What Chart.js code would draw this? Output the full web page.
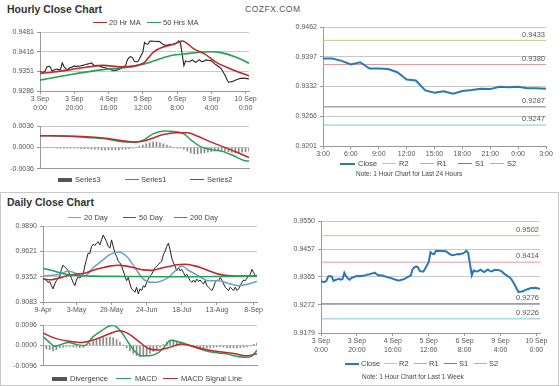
<!DOCTYPE html>
<html>
<head>
<meta charset="utf-8">
<script src="https://cdn.jsdelivr.net/npm/chart.js@4.4.0/dist/chart.umd.min.js"></script>
<style>
body{margin:0;background:#fff;font-family:"Liberation Sans",Arial,sans-serif;}
#wrap{position:relative;width:560px;height:386px;overflow:hidden}
.box{position:absolute}
.t{position:absolute;white-space:nowrap;color:#444;font-size:7.5px;line-height:8px}
.h{position:absolute;font-weight:bold;font-size:10.5px;color:#333;white-space:nowrap}
.sw{position:absolute;height:0;border-top:1.5px solid}
.frame{position:absolute;border:1px solid #c8c8c8}
</style>
</head>
<body>
<div id="wrap">
  <div class="h" style="left:7px;top:3px">Hourly Close Chart</div>
  <div class="t" style="left:245px;top:5px;font-size:8.5px;letter-spacing:0.5px;color:#555">COZFX.COM</div>
  <div class="frame" style="left:0;top:192px;width:557px;height:192px"></div>
  <div class="h" style="left:7px;top:196px">Daily Close Chart</div>

  <div class="box" style="left:0;top:25px"><canvas id="cA" width="262" height="89"></canvas></div>
  <div class="box" style="left:0;top:119px"><canvas id="cB" width="262" height="57"></canvas></div>
  <div class="box" style="left:280px;top:20px"><canvas id="cC" width="278" height="138"></canvas></div>
  <div class="box" style="left:0;top:219px"><canvas id="cD" width="270" height="95"></canvas></div>
  <div class="box" style="left:0;top:318px"><canvas id="cE" width="270" height="55"></canvas></div>
  <div class="box" style="left:280px;top:214px"><canvas id="cF" width="278" height="142"></canvas></div>

  <!-- legend A -->
  <div class="sw" style="left:93px;top:22px;width:14px;border-color:#c0282d"></div>
  <div class="t" style="left:109px;top:19px">20 Hr MA</div>
  <div class="sw" style="left:147px;top:22px;width:14px;border-color:#25a155"></div>
  <div class="t" style="left:163px;top:19px">50 Hrs MA</div>
  <!-- legend B -->
  <div class="sw" style="left:58px;top:178px;width:14px;border-top-width:4px;border-color:#555"></div>
  <div class="t" style="left:75px;top:176px">Series3</div>
  <div class="sw" style="left:125px;top:179px;width:14px;border-color:#25a155"></div>
  <div class="t" style="left:141px;top:176px">Series1</div>
  <div class="sw" style="left:190px;top:179px;width:14px;border-color:#c0282d"></div>
  <div class="t" style="left:207px;top:176px">Series2</div>
  <!-- legend C -->
  <div class="sw" style="left:340px;top:163px;width:15px;border-width:2px;border-color:#2a78b5"></div>
  <div class="t" style="left:358px;top:160px">Close</div>
  <div class="sw" style="left:382px;top:163px;width:14px;border-top-width:1px;border-color:#c9c98a"></div>
  <div class="t" style="left:399px;top:160px">R2</div>
  <div class="sw" style="left:420px;top:163px;width:14px;border-top-width:1px;border-color:#e59a9a"></div>
  <div class="t" style="left:437px;top:160px">R1</div>
  <div class="sw" style="left:458px;top:163px;width:14px;border-top-width:1px;border-color:#7a7a98"></div>
  <div class="t" style="left:475px;top:160px">S1</div>
  <div class="sw" style="left:490px;top:163px;width:14px;border-top-width:1px;border-color:#7cc6d6"></div>
  <div class="t" style="left:507px;top:160px">S2</div>
  <div class="t" style="left:356px;top:170px;font-size:6.5px">Note: 1 Hour Chart for Last 24 Hours</div>
  <!-- legend D -->
  <div class="sw" style="left:68px;top:217px;width:13px;border-color:#6f9fc6"></div>
  <div class="t" style="left:84px;top:214px">20 Day</div>
  <div class="sw" style="left:123px;top:217px;width:13px;border-color:#c0282d"></div>
  <div class="t" style="left:139px;top:214px">50 Day</div>
  <div class="sw" style="left:174px;top:217px;width:13px;border-color:#25a155"></div>
  <div class="t" style="left:190px;top:214px">200 Day</div>
  <!-- legend E -->
  <div class="sw" style="left:52px;top:377px;width:15px;border-top-width:4px;border-color:#555"></div>
  <div class="t" style="left:70px;top:375px">Divergence</div>
  <div class="sw" style="left:116px;top:378px;width:15px;border-color:#25a155"></div>
  <div class="t" style="left:135px;top:375px">MACD</div>
  <div class="sw" style="left:163px;top:378px;width:15px;border-color:#c0282d"></div>
  <div class="t" style="left:181px;top:375px">MACD Signal Line</div>
  <!-- legend F -->
  <div class="sw" style="left:345px;top:363px;width:14px;border-width:2px;border-color:#2a78b5"></div>
  <div class="t" style="left:361px;top:360px">Close</div>
  <div class="sw" style="left:384px;top:363px;width:13px;border-top-width:1px;border-color:#c9c98a"></div>
  <div class="t" style="left:399px;top:360px">R2</div>
  <div class="sw" style="left:414px;top:363px;width:13px;border-top-width:1px;border-color:#e59a9a"></div>
  <div class="t" style="left:429px;top:360px">R1</div>
  <div class="sw" style="left:444px;top:363px;width:13px;border-top-width:1px;border-color:#7a7a98"></div>
  <div class="t" style="left:459px;top:360px">S1</div>
  <div class="sw" style="left:474px;top:363px;width:13px;border-top-width:1px;border-color:#7cc6d6"></div>
  <div class="t" style="left:489px;top:360px">S2</div>
  <div class="t" style="left:362px;top:373px;font-size:6.5px">Note: 1 Hour Chart for Last 1 Week</div>
</div>

<script>
// ---- hourly, last week (index = hours since 3 Sep 0:00, weekend removed) ----
var hourTickPos = [0, 20, 40, 60, 80, 100, 120];
var hourTickLabels = [['3 Sep', '0:00'], ['3 Sep', '20:00'], ['4 Sep', '16:00'], ['5 Sep', '12:00'], ['6 Sep', '8:00'], ['9 Sep', '4:00'], ['10 Sep', '0:00']];
var hourClose = [
  0.9350, 0.9349, 0.9348, 0.9352, 0.9366, 0.9368, 0.9366, 0.9352, 0.9355, 0.9357,
  0.9359, 0.9356, 0.9358, 0.9379, 0.9367, 0.9360, 0.9356, 0.9362, 0.9364, 0.9366,
  0.9369, 0.9367, 0.9369, 0.9368, 0.9370, 0.9371, 0.9373, 0.9374, 0.9376, 0.9377,
  0.9379, 0.9374, 0.9370, 0.9371, 0.9370, 0.9368, 0.9366, 0.9364, 0.9363, 0.9361,
  0.9359, 0.9357, 0.9355, 0.9353, 0.9354, 0.9356, 0.9357, 0.9360, 0.9364, 0.9367,
  0.9370, 0.9390, 0.9397, 0.9400, 0.9397, 0.9385, 0.9383, 0.9383, 0.9392, 0.9404,
  0.9414, 0.9447, 0.9442, 0.9441, 0.9451, 0.9452, 0.9451, 0.9451, 0.9450, 0.9451,
  0.9449, 0.9444, 0.9440, 0.9437, 0.9438, 0.9439, 0.9441, 0.9440, 0.9442, 0.9443,
  0.9446, 0.9452, 0.9445, 0.9408, 0.9370, 0.9386, 0.9384, 0.9383, 0.9386, 0.9389,
  0.9384, 0.9381, 0.9386, 0.9390, 0.9385, 0.9383, 0.9386, 0.9389, 0.9388, 0.9387,
  0.9386, 0.9382, 0.9376, 0.9372, 0.9368, 0.9364, 0.9358, 0.9348, 0.9338, 0.9326,
  0.9315, 0.9316, 0.9317, 0.9319, 0.9322, 0.9324, 0.9326, 0.9328, 0.9328, 0.9329,
  0.9328, 0.9327, 0.9326
];
var ma20HrX = [0, 8, 18, 27, 37, 47, 57, 61, 66, 72, 78, 83, 90, 96, 103, 111, 122];
var ma20Hr = [0.9344, 0.9349, 0.9357, 0.9365, 0.9371, 0.9366, 0.9371, 0.9381, 0.9414, 0.9432, 0.9441, 0.9452, 0.9425, 0.9409, 0.9381, 0.9360, 0.9336];
var ma50HrX = [0, 18, 37, 47, 61, 76, 86, 100, 105, 115, 122];
var ma50Hr = [0.9322, 0.9341, 0.9357, 0.9362, 0.9376, 0.9403, 0.9410, 0.9416, 0.9414, 0.9397, 0.9378];
var hourPriceTicks = [0.9286, 0.9351, 0.9416, 0.9481];

// hourly MACD panel
var series1X = [0, 17, 27, 37, 47, 53, 60, 66, 73, 78, 84, 88, 94, 101, 107, 113, 119, 122];
var series1 = [0.0020, 0.0019, 0.0017, 0.0015, 0.0010, 0.0009, 0.0012, 0.0023, 0.0028, 0.0027, 0.0023, 0.0013, 0.0001, -0.0004, -0.0007, -0.0014, -0.0022, -0.0023];
var series2X = [0, 18, 37, 47, 55, 62, 72, 80, 86, 92, 100, 107, 115, 122];
var series2 = [0.0020, 0.0019, 0.0016, 0.0012, 0.0009, 0.0012, 0.0022, 0.0025, 0.0025, 0.0019, 0.0009, 0.0001, -0.0008, -0.0017];
// Series3 every 2 hours from 0 to 122
var series3 = [
  0, 0, 0, 0, 0, -0.0001, -0.0001, -0.0001, -0.0001, -0.0001, -0.0001,
  -0.0001, -0.0002, -0.0002, -0.0002, -0.0003, -0.0003, -0.0003, -0.0004, -0.0004, -0.0004,
  -0.0004, -0.0004, -0.0004, -0.0003, -0.0003, -0.0002, -0.0001, 0.0000,
  0.0002, 0.0004, 0.0006, 0.0008, 0.0009, 0.0009, 0.0008, 0.0006, 0.0004,
  0.0002, 0.0000, -0.0001, -0.0001, -0.0003,
  -0.0006, -0.0009, -0.0011, -0.0011, -0.0010, -0.0009, -0.0008, -0.0007,
  -0.0006, -0.0005, -0.0005, -0.0006, -0.0007, -0.0008, -0.0009, -0.0009, -0.0008, -0.0007, -0.0006
];
var hourMacdTicks = [-0.0036, 0, 0.0036];

// ---- last 24 hours ----
var dayHourLabels = ['3:00', '6:00', '9:00', '12:00', '15:00', '18:00', '21:00', '0:00', '3:00'];
var dayHourClose = [0.9393, 0.9393, 0.9388, 0.9380, 0.9385, 0.9371, 0.9371, 0.9370, 0.9363, 0.9347,
  0.9345, 0.9323, 0.9318, 0.9321, 0.9316, 0.9322, 0.9324, 0.9327, 0.9326, 0.9331,
  0.9330, 0.9331, 0.9328, 0.9328, 0.9327];
var dayHourTicks = [0.9201, 0.9266, 0.9332, 0.9397, 0.9462];
var pivotsDay = { R2: 0.9433, R1: 0.9380, S1: 0.9287, S2: 0.9247 };
var pivotsWeek = { R2: 0.9502, R1: 0.9414, S1: 0.9276, S2: 0.9226 };
var weekTicks = [0.9179, 0.9272, 0.9365, 0.9457, 0.9550];

// ---- daily ----
var dailyTickPos = [0, 20, 41, 62, 83, 104, 126];
var dailyTickLabels = ['9-Apr', '3-May', '29-May', '24-Jun', '18-Jul', '13-Aug', '8-Sep'];
var dailyClose = [
  0.9327, 0.9322, 0.9317, 0.9290, 0.9302, 0.9257, 0.9223, 0.9275, 0.9310, 0.9337,
  0.9351, 0.9431, 0.9476, 0.9455, 0.9440, 0.9414, 0.9379, 0.9337, 0.9292, 0.9257,
  0.9317, 0.9351, 0.9337, 0.9361, 0.9379, 0.9466, 0.9536, 0.9604, 0.9597, 0.9674,
  0.9698, 0.9684, 0.9709, 0.9726, 0.9691, 0.9744, 0.9796, 0.9761, 0.9726, 0.9674,
  0.9656, 0.9744, 0.9674, 0.9604, 0.9570, 0.9518, 0.9500, 0.9466, 0.9414, 0.9361,
  0.9310, 0.9344, 0.9275, 0.9223, 0.9205, 0.9187, 0.9240, 0.9170, 0.9223, 0.9205,
  0.9257, 0.9240, 0.9292, 0.9327, 0.9361, 0.9379, 0.9414, 0.9448, 0.9466, 0.9483,
  0.9500, 0.9518, 0.9587, 0.9622, 0.9674, 0.9709, 0.9639, 0.9552, 0.9500, 0.9466,
  0.9414, 0.9448, 0.9414, 0.9431, 0.9396, 0.9361, 0.9379, 0.9344, 0.9310, 0.9292,
  0.9317, 0.9292, 0.9327, 0.9302, 0.9317, 0.9292, 0.9275, 0.9310, 0.9257, 0.9240,
  0.9223, 0.9205, 0.9240, 0.9292, 0.9317, 0.9310, 0.9344, 0.9317, 0.9275, 0.9240,
  0.9223, 0.9205, 0.9240, 0.9223, 0.9205, 0.9240, 0.9205, 0.9223, 0.9257, 0.9292,
  0.9317, 0.9310, 0.9337, 0.9361, 0.9379, 0.9431, 0.9396, 0.9361, 0.9370
];
var ma20DayX = [0, 10, 15, 20, 25, 30, 35, 40, 45, 50, 55, 60, 65, 70, 75, 79, 83, 87, 93, 99, 105, 111, 117, 123, 128];
var ma20Day = [0.9361, 0.9379, 0.9414, 0.9386, 0.9361, 0.9448, 0.9518, 0.9587, 0.9615, 0.9570, 0.9448, 0.9327, 0.9292, 0.9302, 0.9344, 0.9414, 0.9466, 0.9421, 0.9361, 0.9309, 0.9309, 0.9281, 0.9257, 0.9275, 0.9302];
var ma50DayX = [0, 5, 10, 15, 20, 25, 30, 35, 40, 45, 50, 55, 60, 65, 70, 75, 80, 85, 90, 95, 100, 105, 110, 115, 120, 128];
var ma50Day = [0.9330, 0.9320, 0.9340, 0.9365, 0.9380, 0.9390, 0.9420, 0.9445, 0.9465, 0.9475, 0.9465, 0.9445, 0.9425, 0.9420, 0.9440, 0.9460, 0.9480, 0.9485, 0.9470, 0.9445, 0.9410, 0.9380, 0.9365, 0.9360, 0.9360, 0.9360];
var ma200DayX = [0, 5, 10, 15, 20, 30, 50, 70, 90, 110, 128];
var ma200Day = [0.9440, 0.9420, 0.9395, 0.9375, 0.9365, 0.9358, 0.9355, 0.9352, 0.9352, 0.9355, 0.9358];
var dailyTicks = [0.9083, 0.9352, 0.9621, 0.9890];

var macdDayX = [0, 5, 7, 15, 21, 25, 30, 35, 39, 42, 47, 51, 55, 59, 63, 67, 71, 74, 76, 79, 83, 87, 93, 99, 105, 111, 117, 123, 126, 128];
var macdDay = [0.0042, 0.0007, -0.0003, 0.0014, 0.0003, 0.0000, 0.0042, 0.0070, 0.0090, 0.0095, 0.0063, 0.0014, -0.0028, -0.0049, -0.0049, -0.0042, -0.0021, 0.0007, 0.0025, 0.0021, 0.0014, 0.0003, -0.0014, -0.0028, -0.0035, -0.0042, -0.0053, -0.0056, -0.0042, -0.0021];
var signalDayX = [0, 7, 15, 23, 31, 39, 46, 51, 57, 63, 69, 75, 83, 91, 99, 107, 115, 121, 128];
var signalDay = [0.0059, 0.0035, 0.0021, 0.0014, 0.0028, 0.0053, 0.0070, 0.0056, 0.0021, -0.0014, -0.0021, -0.0011, 0.0007, -0.0007, -0.0021, -0.0031, -0.0039, -0.0049, -0.0039];
// divergence every 2 days from 0 to 128
var divergence = [
  -0.0012, -0.0016, -0.0020, -0.0026, -0.0020, -0.0012, -0.0008,
  -0.0004, -0.0004, -0.0006, -0.0008, -0.0010, -0.0008,
  0.0000, 0.0010, 0.0018, 0.0026, 0.0032, 0.0036, 0.0038, 0.0040, 0.0036, 0.0028, 0.0016,
  0.0002, -0.0012, -0.0026, -0.0038, -0.0048, -0.0054, -0.0052, -0.0046, -0.0038, -0.0028, -0.0018, -0.0008,
  0.0004, 0.0016, 0.0026, 0.0028, 0.0022, 0.0014, 0.0008,
  0.0002, -0.0002, -0.0006, -0.0008, -0.0010, -0.0012, -0.0012, -0.0010, -0.0008, -0.0006, -0.0006, -0.0008, -0.0010,
  -0.0012, -0.0012, -0.0012, -0.0010, -0.0008, -0.0006, -0.0002, 0.0006, 0.0012
];
var dailyMacdTicks = [-0.0096, 0, 0.0096];

// ---- helpers ----
var RED = '#c0282d', GREEN = '#25a155', BLUE = '#2a78b5', STEEL = '#6f9fc6';
var refColors = { R2: '#c9c98a', R1: '#e59a9a', S1: '#7a7a98', S2: '#7cc6d6' };
Chart.defaults.font.family = '"Liberation Sans", Arial, sans-serif';
Chart.defaults.animation = false;

function pts(xs, ys) { return ys.map(function (v, i) { return { x: xs ? xs[i] : i, y: v }; }); }
function step(n, s) { var a = []; for (var i = 0; i < n; i++) a.push(i * s); return a; }

function yScale(ticks, w) {
  return {
    min: ticks[0], max: ticks[ticks.length - 1],
    afterFit: function (s) { s.width = w; },
    afterBuildTicks: function (s) { s.ticks = ticks.map(function (v) { return { value: v }; }); },
    ticks: { font: { size: 7 }, color: '#555', padding: 3, callback: function (v) { return v.toFixed(4); } },
    grid: { color: '#c8c8c8', tickLength: 3, tickColor: '#999' },
    border: { color: '#999' }
  };
}
function xScale(max, pos, labels, h) {
  return {
    type: 'linear', min: 0, max: max, offset: false,
    afterFit: function (s) { s.height = h; },
    afterBuildTicks: function (s) { s.ticks = pos.map(function (v) { return { value: v }; }); },
    ticks: { display: !!labels, font: { size: 7 }, color: '#555', padding: 1, maxRotation: 0, autoSkip: false,
      callback: function (v) { return labels ? labels[pos.indexOf(v)] : ''; } },
    grid: { display: true, drawOnChartArea: false, drawTicks: !!labels, tickLength: 3, color: '#999', offset: false },
    border: { color: '#999' }
  };
}
function line(data, color, w, smooth) {
  return { type: 'line', data: data, borderColor: color, borderWidth: w, pointRadius: 0,
    cubicInterpolationMode: smooth ? 'monotone' : 'default', tension: 0, fill: false };
}
function opts(pad, x, y) {
  return {
    responsive: false, animation: false,
    layout: { padding: pad },
    plugins: { legend: { display: false }, tooltip: { enabled: false } },
    scales: { x: x, y: y }
  };
}
var refLabels = {
  id: 'refLabels',
  afterDatasetsDraw: function (chart) {
    var ctx = chart.ctx;
    ctx.save();
    ctx.font = '7.5px "Liberation Sans", Arial, sans-serif';
    ctx.fillStyle = '#555';
    ctx.textAlign = 'right';
    ctx.textBaseline = 'bottom';
    chart.data.datasets.forEach(function (ds, i) {
      if (!ds.refLabel) return;
      var el = chart.getDatasetMeta(i).data;
      var p = el[el.length - 1];
      ctx.fillText(ds.refLabel, p.x - 1, p.y - 2);
    });
    ctx.restore();
  }
};
function pivotSets(piv, xmax) {
  return ['R2', 'R1', 'S1', 'S2'].map(function (k) {
    var d = line([{ x: 0, y: piv[k] }, { x: xmax, y: piv[k] }], refColors[k], 1, false);
    d.refLabel = piv[k].toFixed(4);
    return d;
  });
}

// A: hourly close with MAs
new Chart(document.getElementById('cA'), {
  type: 'line',
  data: { datasets: [
    line(pts(ma20HrX, ma20Hr), RED, 1.6, true),
    line(pts(ma50HrX, ma50Hr), GREEN, 1.6, true),
    line(pts(null, hourClose), '#222', 1.1, false)
  ] },
  options: opts({ top: 6, right: 13 }, xScale(122, hourTickPos, hourTickLabels, 23), yScale(hourPriceTicks, 40))
});

// B: hourly MACD
new Chart(document.getElementById('cB'), {
  type: 'bar',
  data: { datasets: [
    line(pts(series2X, series2), RED, 1.5, true),
    line(pts(series1X, series1), GREEN, 1.5, true),
    { type: 'bar', data: pts(step(series3.length, 2), series3), backgroundColor: '#8a8a8a', barThickness: 1 }
  ] },
  options: opts({ top: 6, right: 13 }, xScale(122, hourTickPos, null, 3), yScale(hourMacdTicks, 40))
});

// C: last 24 hours with pivots
new Chart(document.getElementById('cC'), {
  type: 'line',
  data: { datasets: [line(pts(null, dayHourClose), BLUE, 2, false)].concat(pivotSets(pivotsDay, 24)) },
  options: opts({ top: 7, right: 12 }, xScale(24, step(9, 3), dayHourLabels, 12), yScale(dayHourTicks, 43)),
  plugins: [refLabels]
});

// D: daily close with MAs
new Chart(document.getElementById('cD'), {
  type: 'line',
  data: { datasets: [
    line(pts(ma200DayX, ma200Day), GREEN, 1.6, true),
    line(pts(ma50DayX, ma50Day), RED, 1.6, true),
    line(pts(ma20DayX, ma20Day), STEEL, 1.5, true),
    line(pts(null, dailyClose), '#222', 1, false)
  ] },
  options: opts({ top: 6, right: 13 }, xScale(128, dailyTickPos, dailyTickLabels, 12), yScale(dailyTicks, 43))
});

// E: daily MACD
new Chart(document.getElementById('cE'), {
  type: 'bar',
  data: { datasets: [
    line(pts(signalDayX, signalDay), RED, 1.5, true),
    line(pts(macdDayX, macdDay), GREEN, 1.5, true),
    { type: 'bar', data: pts(step(divergence.length, 2), divergence), backgroundColor: '#8a8a8a', barThickness: 1 }
  ] },
  options: opts({ top: 5, right: 13 }, xScale(128, dailyTickPos, null, 4), yScale(dailyMacdTicks, 43))
});

// F: last week with pivots
new Chart(document.getElementById('cF'), {
  type: 'line',
  data: { datasets: [line(pts(null, hourClose), BLUE, 2, false)].concat(pivotSets(pivotsWeek, 122)) },
  options: opts({ top: 6, right: 18 }, xScale(122, hourTickPos, hourTickLabels, 23), yScale(weekTicks, 41)),
  plugins: [refLabels]
});
</script>
</body>
</html>
